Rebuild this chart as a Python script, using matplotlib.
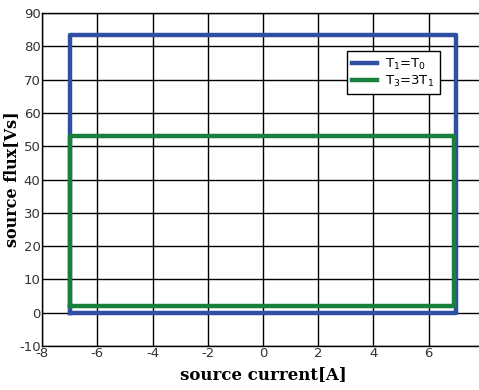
import matplotlib.pyplot as plt
import numpy as np

plt.rcParams['axes.unicode_minus'] = False

# rectangles (current, flux) of the two loops
t1_current = [-7, 7, 7, -7, -7]
t1_flux = [0, 0, 83.5, 83.5, 0]
t3_current = [-7, 6.9, 6.9, -7, -7]
t3_flux = [2, 2, 53, 53, 2]

xticks = np.arange(-8, 9, 2)
yticks = np.arange(-10, 91, 10)

fig = plt.figure(figsize=(4.79, 3.90), dpi=100)
ax = fig.add_axes([0.0877, 0.1128, 0.9227, 0.8538])

ax.plot(t1_current, t1_flux, color='#2f4fa3', lw=3.2, label=r'T$_1$=T$_0$')
ax.plot(t3_current, t3_flux, color='#16803c', lw=3.2, label=r'T$_3$=3T$_1$')

ax.set_xlim(-8, 8)
ax.set_ylim(-10, 90)
ax.set_xticks(xticks)
ax.set_yticks(yticks)
ax.grid(True, color='black', lw=1.0)
ax.set_axisbelow(True)
ax.tick_params(labelsize=9.5, pad=1, length=0, colors='#333333')
for s in ax.spines.values():
    s.set_linewidth(1.0)

ax.set_xlabel('source current[A]', family='DejaVu Serif', fontweight='bold',
              fontsize=12, labelpad=4)
ax.set_ylabel('source flux[Vs]', family='DejaVu Serif', fontweight='bold',
              fontsize=11.5, labelpad=-1)

leg = ax.legend(loc='upper left', bbox_to_anchor=(0.675, 0.905), fontsize=9.5,
                fancybox=False, edgecolor='black', framealpha=1,
                handlelength=1.9, borderpad=0.4, labelspacing=0.15,
                handletextpad=0.6)
leg.get_frame().set_linewidth(1.0)

plt.savefig('out.png', dpi=100)
